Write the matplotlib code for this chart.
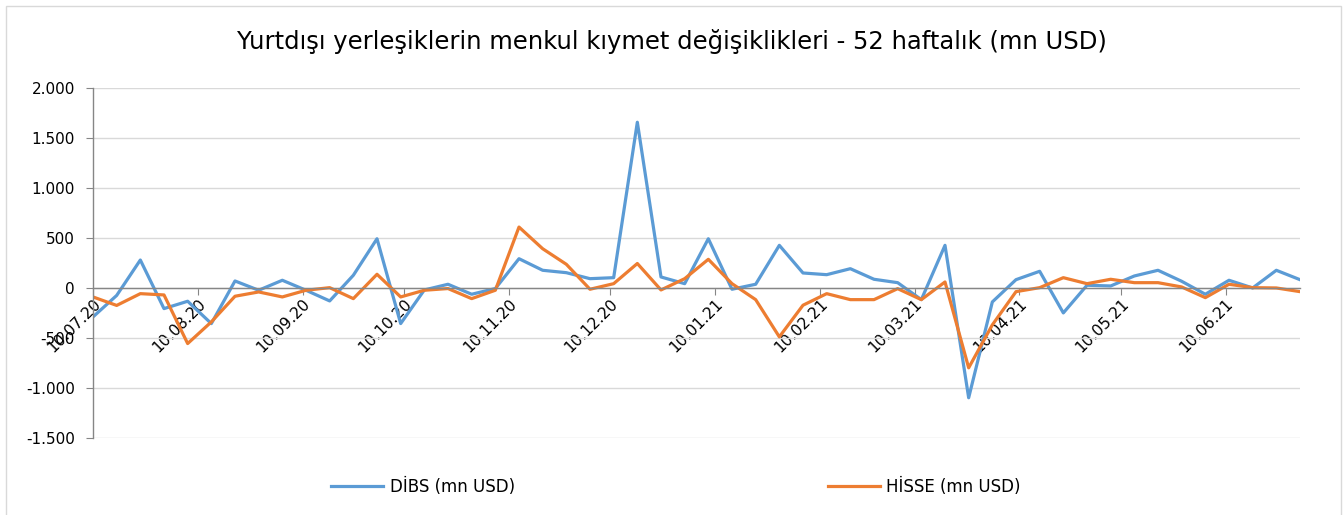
import matplotlib
matplotlib.use("Agg")
import matplotlib.pyplot as plt
import matplotlib.dates as mdates
import matplotlib.ticker as mticker
import pandas as pd
from matplotlib.patches import Rectangle

# weekly observations, 10.07.20 ... 02.07.21
dates = pd.date_range("2020-07-10", periods=52, freq="7D")

dibs = [
    -290, -75, 280, -207, -133, -357, 70, -23, 77, -23,
    -130, 127, 493, -357, -20, 37, -63, -6, 293, 177,
    153, 93, 103, 1660, 110, 43, 493, -13, 37, 427,
    150, 133, 193, 87, 53, -117, 427, -1100, -140, 83,
    167, -250, 27, 20, 120, 177, 67, -63, 77, 0,
    177, 83,
]
hisse = [
    -90, -175, -57, -70, -557, -340, -83, -40, -90, -23,
    3, -107, 137, -90, -23, -6, -107, -23, 610, 393,
    237, -13, 43, 245, -20, 93, 287, 43, -117, -490,
    -173, -57, -117, -117, -7, -117, 60, -800, -370, -37,
    3, 103, 43, 87, 53, 53, 10, -97, 37, 3,
    0, -37,
]

title = "Yurtdışı yerleşiklerin menkul kıymet değişiklikleri - 52 haftalık (mn USD)"
labels = ["DİBS (mn USD)", "HİSSE (mn USD)"]
colors = ["#5B9BD5", "#ED7D31"]

plt.rcParams["font.family"] = ["DejaVu Sans"]

fig = plt.figure(figsize=(13.44, 5.15), dpi=100)
ax = fig.add_axes([93 / 1344, 1 - 437.7 / 515, (1300 - 93) / 1344, (437.7 - 88.3) / 515])

for vals, lab, col in zip([dibs, hisse], labels, colors):
    ax.plot(dates, vals, color=col, linewidth=2.3, label=lab, solid_joinstyle="round")

ax.set_ylim(-1500, 2000)
ax.set_xlim(dates[0], dates[-1])
ax.yaxis.set_major_locator(mticker.MultipleLocator(500))
ax.yaxis.set_major_formatter(
    mticker.FuncFormatter(lambda v, _: f"{int(v):,}".replace(",", "."))
)
ax.grid(axis="y", color="#D9D9D9", linewidth=1)
ax.set_axisbelow(True)

ax.xaxis.set_major_locator(mdates.MonthLocator(bymonthday=10))
ax.xaxis.set_major_formatter(mdates.DateFormatter("%d.%m.%y"))
ax.spines["bottom"].set_position(("data", 0))
for s in ["top", "right"]:
    ax.spines[s].set_visible(False)
for s in ["left", "bottom"]:
    ax.spines[s].set_color("#868686")
    ax.spines[s].set_linewidth(1)
ax.tick_params(axis="y", length=5, color="#868686", labelsize=11, pad=8)
ax.tick_params(axis="x", length=5, color="#868686", labelsize=11.2, pad=1)
for t in ax.get_xticklabels():
    t.set_rotation(45)
    t.set_ha("right")
    t.set_va("top")
    t.set_rotation_mode("anchor")

fig.suptitle(title, y=1 - 42 / 515, va="center", fontsize=17.5)

fig.legend(
    loc="center", bbox_to_anchor=(0.503, 1 - 487 / 515), ncol=2,
    frameon=False, fontsize=12, handlelength=3.1, columnspacing=18.8,
    handletextpad=0.4,
)

# chart-area frame
fig.patches.append(Rectangle((6 / 1344, -0.05), (1341 - 6) / 1344, 1.05 - 6 / 515,
                             transform=fig.transFigure, fill=False,
                             edgecolor="#D9D9D9", linewidth=1))

fig.savefig("out.png", dpi=100)
